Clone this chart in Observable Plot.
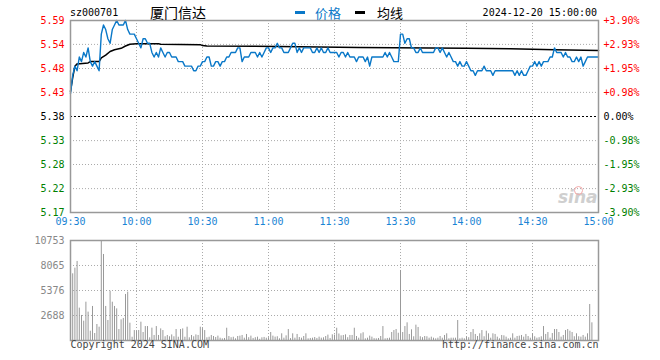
<!DOCTYPE html>
<html><head><meta charset="utf-8">
<script src="https://cdn.jsdelivr.net/npm/d3@7"></script>
<script src="https://cdn.jsdelivr.net/npm/@observablehq/plot@0.6"></script>
<style>
body{margin:0;background:#fff;}
#wrap{position:relative;width:660px;height:360px;overflow:hidden;font-family:"DejaVu Sans Mono",monospace;font-size:10px;}
#wrap svg{display:block;}
.abs{position:absolute;white-space:nowrap;line-height:1;}
.cjk{font-family:"Noto Sans CJK SC",sans-serif;}
</style></head><body><div id="wrap"></div>
<script>
const stockCode = "sz000701";
const stockName = "厦门信达";
const legendPrice = "价格";
const legendAvg = "均线";
const dateTime = "2024-12-20 15:00:00";
const prevClose = 5.38;
const timeTickMinutes = [0, 30, 60, 90, 120, 150, 180, 210, 240];
const timeLabels = ["09:30", "10:00", "10:30", "11:00", "11:30", "13:30", "14:00", "14:30", "15:00"];
const pctTicks = [3.90, 2.93, 1.95, 0.98, 0, -0.98, -1.95, -2.93, -3.90];
const priceLabels = ["5.59", "5.54", "5.48", "5.43", "5.38", "5.33", "5.28", "5.22", "5.17"];
const pctLabels = ["+3.90%", "+2.93%", "+1.95%", "+0.98%", "0.00%", "-0.98%", "-1.95%", "-2.93%", "-3.90%"];
const volTicks = [2688, 5376, 8065, 10753];
const volMax = 10753;

const prices = [
5.43,5.47,5.49,5.48,5.51,5.50,5.52,5.51,5.53,5.50,
5.49,5.50,5.49,5.48,5.56,5.58,5.57,5.55,5.54,5.57,
5.58,5.59,5.58,5.58,5.58,5.59,5.57,5.56,5.56,5.56,
5.55,5.54,5.53,5.55,5.55,5.54,5.54,5.52,5.51,5.52,
5.51,5.53,5.52,5.51,5.52,5.52,5.51,5.51,5.51,5.50,
5.50,5.50,5.49,5.49,5.49,5.49,5.48,5.48,5.49,5.49,
5.50,5.50,5.51,5.51,5.49,5.49,5.50,5.50,5.49,5.50,
5.50,5.51,5.51,5.52,5.52,5.52,5.53,5.53,5.50,5.51,
5.51,5.51,5.52,5.52,5.52,5.51,5.52,5.51,5.52,5.53,
5.53,5.52,5.53,5.53,5.54,5.53,5.53,5.52,5.52,5.52,
5.53,5.54,5.54,5.52,5.53,5.52,5.53,5.53,5.53,5.53,
5.52,5.52,5.53,5.52,5.53,5.52,5.52,5.53,5.52,5.52,5.52,
5.52,5.51,5.52,5.52,5.51,5.52,5.51,5.51,5.51,5.50,
5.51,5.51,5.51,5.50,5.51,5.49,5.51,5.51,5.51,5.51,
5.51,5.51,5.52,5.51,5.52,5.51,5.50,5.50,5.50,5.56,
5.56,5.54,5.55,5.55,5.53,5.53,5.52,5.52,5.53,5.52,
5.52,5.52,5.52,5.52,5.52,5.53,5.53,5.52,5.53,5.52,
5.51,5.52,5.51,5.50,5.50,5.49,5.50,5.49,5.49,5.50,
5.49,5.48,5.48,5.47,5.48,5.48,5.48,5.49,5.48,5.48,
5.48,5.47,5.48,5.48,5.48,5.48,5.48,5.48,5.48,5.48,
5.48,5.47,5.48,5.47,5.48,5.47,5.47,5.48,5.49,5.49,
5.50,5.49,5.50,5.49,5.50,5.50,5.50,5.51,5.51,5.53,
5.52,5.52,5.52,5.51,5.52,5.51,5.51,5.50,5.50,5.51,
5.50,5.51,5.49,5.50,5.51,5.51,5.51,5.51,5.51,5.51
];

const avgMinutes = [0,1,2,3,8,9,13,14,16,18,20,23,25,27,30,40,41,59,60,62,95,131,180,200,220,240];
const avgPrices = [5.435,5.465,5.49,5.495,5.497,5.50,5.50,5.508,5.514,5.522,5.526,5.529,5.534,5.538,5.539,5.539,5.538,5.537,5.535,5.534,5.533,5.531,5.529,5.528,5.526,5.524];

const volumes = [
540,7170,7780,8500,3480,2690,2080,4120,3050,1000,
3660,750,1720,1430,10753,9250,3660,2150,5300,4120,
3660,3400,1180,2220,2370,4950,5200,1860,350,1070,
1000,1075,1970,860,1500,1500,290,1330,540,1500,
540,1250,1070,400,540,400,600,400,1180,350,
1180,1250,350,1430,290,540,400,600,540,1430,
1280,1070,290,350,540,430,320,470,250,180,
220,1320,430,300,350,180,430,470,540,250,
650,300,470,220,300,360,130,290,330,250,
300,860,470,360,400,180,720,250,500,1180,
200,720,250,650,320,250,430,720,180,220,
250,320,220,360,250,290,430,580,220,610,580,
1320,700,500,540,610,300,540,540,1320,430,
250,720,830,180,250,470,360,200,180,220,
430,1500,180,220,250,860,1070,1180,780,7530,
860,1500,1900,650,1150,400,1650,1400,400,300,
430,400,250,360,250,180,250,430,250,540,
720,180,250,250,250,2150,180,250,180,360,
300,860,1180,650,430,720,1070,400,1000,720,
250,720,650,360,180,540,500,360,180,250,
720,250,430,470,540,360,650,430,250,720,
400,250,300,400,1500,650,860,250,750,1180,
1180,860,360,540,1070,1180,1000,860,400,720,
400,360,540,360,720,3870,1900,0,0,0
];

const BLUE = "#0a78c8";
const AXBLUE = "#1a84d4";
const RED = "#ff0000";
const GREEN = "#008000";
const pct = p => (p / prevClose - 1) * 100;
const tickColor = d => d > 0 ? RED : d < 0 ? GREEN : "#000";
const FONT = "DejaVu Sans Mono";
const grid = {stroke: "#aaa", strokeDasharray: "1,2", strokeWidth: 1};

const main = Plot.plot({
  width: 660, height: 232,
  marginLeft: 70, marginRight: 62, marginTop: 20, marginBottom: 20,
  style: {fontFamily: FONT, fontSize: "10px", background: "#fff"},
  x: {domain: [0, 240], axis: null},
  y: {domain: [-3.9, 3.9], axis: null},
  marks: [
    Plot.ruleY(pctTicks.filter(t => t !== 0 && Math.abs(t) < 3.9), {y: d => d, ...grid}),
    Plot.ruleX(timeTickMinutes.slice(1, -1), {x: d => d, ...grid}),
    Plot.ruleY([0], {y: d => d, stroke: "#000", strokeDasharray: "2,2", strokeWidth: 1}),
    Plot.text(["sina"], {frameAnchor: "bottom-right", textAnchor: "end", dx: -1, dy: -10, fontSize: 17, fontStyle: "italic", fontWeight: "bold", fill: "#cfcfcf", fontFamily: "DejaVu Sans"}),
    Plot.line(avgMinutes, {x: d => d, y: (d, i) => pct(avgPrices[i]), stroke: "#000", strokeWidth: 1.5}),
    Plot.line(prices, {x: (d, i) => i, y: d => pct(d), stroke: BLUE, strokeWidth: 1.4}),
    Plot.frame({stroke: "#999", strokeWidth: 1.5}),
    Plot.text(pctTicks, {y: d => d, frameAnchor: "left", textAnchor: "end", dx: -6, text: (d, i) => priceLabels[i], fill: tickColor, fontSize: 10}),
    Plot.text(pctTicks, {y: d => d, frameAnchor: "right", textAnchor: "start", dx: 5, text: (d, i) => pctLabels[i], fill: tickColor, fontSize: 10}),
    Plot.text(timeTickMinutes, {x: d => d, frameAnchor: "bottom", dy: 12, text: (d, i) => timeLabels[i], fill: AXBLUE, fontSize: 10})
  ]
});

const vol = Plot.plot({
  width: 660, height: 128,
  marginLeft: 70, marginRight: 62, marginTop: 8, marginBottom: 20,
  style: {fontFamily: FONT, fontSize: "10px", background: "#fff"},
  x: {domain: [0, 240], axis: null},
  y: {domain: [0, volMax], axis: null},
  marks: [
    Plot.ruleY(volTicks.slice(0, -1), {y: d => d, ...grid}),
    Plot.ruleX(timeTickMinutes.slice(1, -1), {x: d => d, ...grid}),
    Plot.ruleX(volumes, {x: (d, i) => i, y1: 0, y2: d => d, stroke: "#999", strokeWidth: 1}),
    Plot.frame({stroke: "#999", strokeWidth: 1.5}),
    Plot.text(volTicks, {y: d => d, frameAnchor: "left", textAnchor: "end", dx: -6, text: d => String(d), fill: "#888", fontSize: 10}),
    Plot.text(["Copyright 2024 SINA.COM"], {frameAnchor: "bottom-left", textAnchor: "start", dy: 7, fill: "#444", fontSize: 10}),
    Plot.text(["http://finance.sina.com.cn"], {frameAnchor: "bottom-right", textAnchor: "end", dy: 7, fill: "#444", fontSize: 10})
  ]
});

const wrap = document.getElementById("wrap");
const mainBox = document.createElement("div");
mainBox.className = "abs"; mainBox.style.left = "0px"; mainBox.style.top = "0px";
mainBox.appendChild(main);
const volBox = document.createElement("div");
volBox.className = "abs"; volBox.style.left = "0px"; volBox.style.top = "232px";
volBox.appendChild(vol);
wrap.appendChild(mainBox);
wrap.appendChild(volBox);

function addText(txt, css, cls) {
  const d = document.createElement("div");
  d.className = "abs" + (cls ? " " + cls : "");
  d.textContent = txt;
  Object.assign(d.style, css);
  wrap.appendChild(d);
  return d;
}
function addBox(css) {
  const d = document.createElement("div");
  d.className = "abs";
  Object.assign(d.style, css);
  wrap.appendChild(d);
}
addText(stockCode, {left: "70px", top: "8px", fontSize: "10px", color: "#000"});
addText(stockName, {left: "150px", top: "5px", fontSize: "14px", color: "#000"}, "cjk");
addBox({left: "295px", top: "11px", width: "10px", height: "3px", background: BLUE});
addText(legendPrice, {left: "315px", top: "6px", fontSize: "13px", color: BLUE}, "cjk");
addBox({left: "355px", top: "11px", width: "10px", height: "3px", background: "#000"});
addText(legendAvg, {left: "377px", top: "6px", fontSize: "13px", color: "#000"}, "cjk");
addText(dateTime, {right: "63px", top: "8px", fontSize: "10px", color: "#000"});
addBox({left: "574px", top: "186px", width: "7px", height: "7px", borderRadius: "50%", border: "1.5px solid #f2a8a8"});
</script>
</body></html>
